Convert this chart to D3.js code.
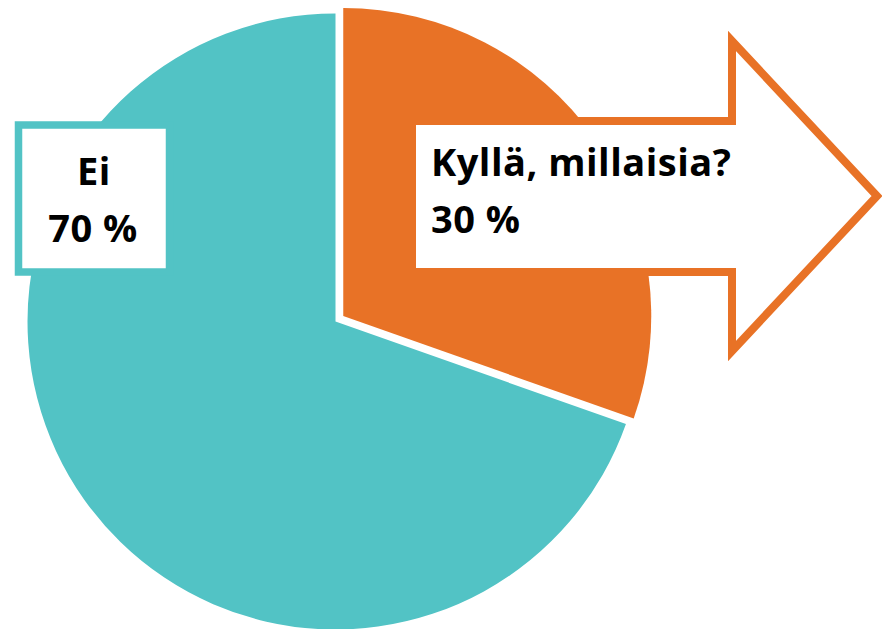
<!DOCTYPE html>
<html>
<head>
<meta charset="utf-8">
<script src="https://cdn.jsdelivr.net/npm/d3@7"></script>
<style>
  html, body { margin: 0; padding: 0; background: #fff; }
  svg { display: block; }
</style>
</head>
<body>
<svg id="chart" width="882" height="629"></svg>
<script>
const categories = ["Ei", "Kyllä, millaisia?"];
const values = [69.6, 30.4];
const valueLabels = ["70 %", "30 %"];
const colors = ["#52C3C5", "#E87226"];

const svg = d3.select("#chart");
const cx = 335.5, cy = 321.5, R = 308, explode = [0, 9.5];

const total = d3.sum(values);
const start = -values[0] / total * 2 * Math.PI;
const pie = d3.pie().sort(null).startAngle(start).endAngle(start + 2 * Math.PI);
const arcs = pie(values);
const arc = d3.arc().innerRadius(0).outerRadius(R);

svg.append("g").selectAll("path").data(arcs).join("path")
  .attr("transform", (d, i) => {
    const mid = (d.startAngle + d.endAngle) / 2;
    const dx = Math.sin(mid) * explode[i], dy = -Math.cos(mid) * explode[i];
    return `translate(${cx + dx},${cy + dy})`;
  })
  .attr("d", arc)
  .attr("fill", (d, i) => colors[i]);

// Arrow callout for "Kyllä"
const arrow = [[412,121],[732,121],[732,41],[877,196],[732,351],[732,272],[412,272]];
svg.append("path")
  .attr("d", d3.line()(arrow) + "Z")
  .attr("fill", "#fff")
  .attr("stroke", colors[1])
  .attr("stroke-width", 8)
  .attr("stroke-linejoin", "miter")
  .attr("stroke-miterlimit", 10);

// Box callout for "Ei"
svg.append("rect")
  .attr("x", 18.5).attr("y", 125).attr("width", 151).attr("height", 147)
  .attr("fill", "#fff").attr("stroke", colors[0]).attr("stroke-width", 7.5);

const font = "'Open Sans', Lato, sans-serif";
const fs = 38;

const eiG = svg.append("g").attr("font-family", font).attr("font-weight", "bold")
  .attr("font-size", fs).attr("fill", "#000").attr("text-anchor", "middle")
  .attr("letter-spacing", 0.5);
eiG.append("text").attr("x", 94).attr("y", 185).text(categories[0]);
eiG.append("text").attr("x", 93).attr("y", 242).text(valueLabels[0]);

const kG = svg.append("g").attr("font-family", font).attr("font-weight", "bold")
  .attr("font-size", fs).attr("fill", "#000").attr("text-anchor", "start")
  .attr("letter-spacing", 0.5);
kG.append("text").attr("x", 431).attr("y", 176).text(categories[1]);
kG.append("text").attr("x", 431).attr("y", 233).text(valueLabels[1]);
</script>
</body>
</html>
